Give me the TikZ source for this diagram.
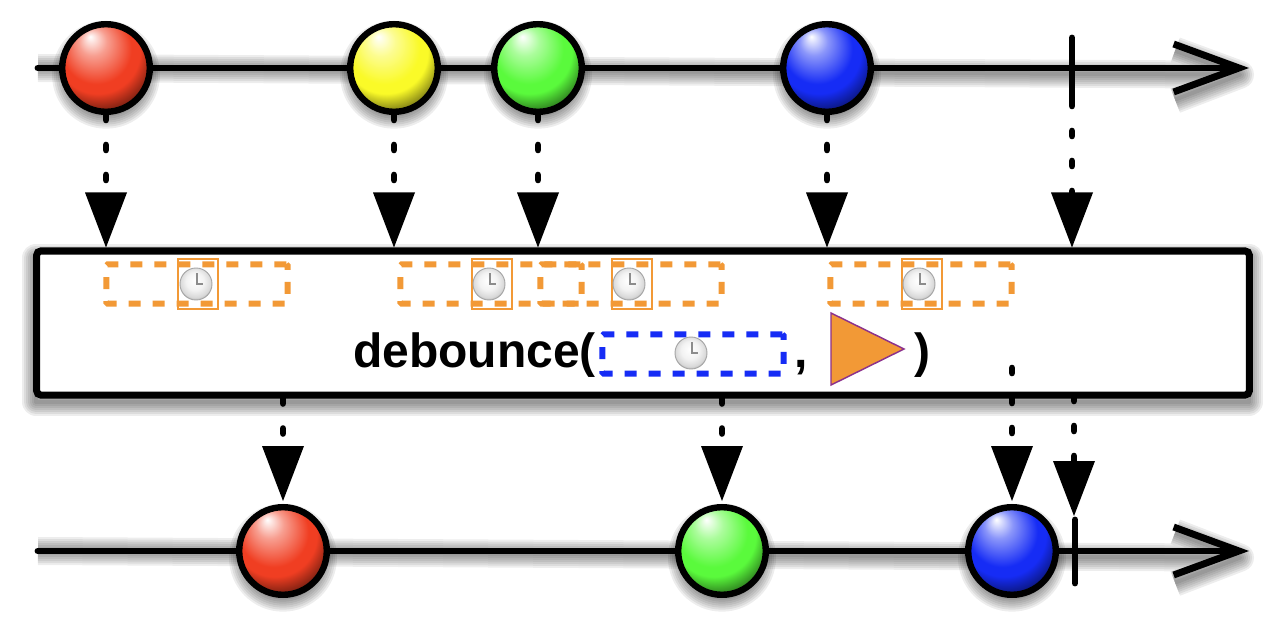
\documentclass[tikz,border=0pt]{standalone}
\usepackage{fontspec}
\setmainfont{Liberation Sans}
\usetikzlibrary{arrows.meta,shapes.geometric}
\definecolor{marblered}{RGB}{240,62,34}
\definecolor{marbleyellow}{RGB}{250,250,40}
\definecolor{marblegreen}{RGB}{90,250,60}
\definecolor{marbleblue}{RGB}{22,44,245}
\definecolor{windoworange}{RGB}{242,153,54}
\definecolor{triborder}{RGB}{140,50,140}
\newcommand{\marbleshade}[1]{
  \pgfdeclareradialshading{shade#1}{\pgfpoint{-9bp}{18bp}}{color(0bp)=(white); color(8bp)=(#1!50!white); color(20bp)=(#1); color(24bp)=(#1); color(33bp)=(#1!40!black); color(50bp)=(#1!40!black)}
}
\marbleshade{marblered}
\marbleshade{marbleyellow}
\marbleshade{marblegreen}
\marbleshade{marbleblue}
\pgfdeclareradialshading{clockface}{\pgfpoint{-2bp}{6bp}}{rgb(0bp)=(1,1,1); rgb(14bp)=(0.95,0.95,0.95); rgb(24bp)=(0.85,0.85,0.85); rgb(30bp)=(0.66,0.66,0.66); rgb(50bp)=(0.66,0.66,0.66)}
\newcommand{\clockat}[3]{
  \node[clockface] (#1) at (#2,#3) {};
  \draw[clockhand] (#1.center) ++(1,-11) -- ++(0,11) -- ++(6,0);
}
\newcommand{\softshadow}[1]{
  \foreach \w in {4,8,...,28} {
    \draw[yshift=-5pt, draw=black, opacity=.07, line width=\w*.75pt, line join=round] #1;
  }
}
\begin{document}
\begin{tikzpicture}[x=.75pt, y=-.75pt,
    timeline/.style={line width=5.2pt, line cap=round, -{Straight Barb[length=49pt,width=36pt]}},
    tickmark/.style={line width=5.2pt, line cap=round},
    marble/.style={circle, draw=black, line width=4.8pt, minimum size=65.7pt, inner sep=0pt, shading=shade#1},
    flow/.style={line width=5pt, line cap=round, dash pattern=on 3.75pt off 18.75pt,
      -{Triangle[length=41.25pt,width=31.5pt,line width=0pt]}},
    opbox/.style={draw=black, fill=white, line width=5.25pt, rounded corners=3pt, minimum width=909.4pt, minimum height=108pt, inner sep=0pt},
    window/.style={draw=windoworange, line width=4.4pt, dash pattern=on 9pt off 9pt, minimum width=136pt, minimum height=29.5pt, inner sep=0pt, rounded corners=1pt},
    timerwindow/.style={window, draw=marbleblue},
    clockframe/.style={draw=windoworange, line width=1.2pt, minimum width=30pt, minimum height=37.5pt, inner sep=0pt},
    clockface/.style={circle, draw=black!35, line width=.7pt, minimum size=24pt, inner sep=0pt, shading=clockface},
    clockhand/.style={draw=black!45, line width=1.2pt},
    optext/.style={font=\fontsize{36}{36}\bfseries\selectfont, inner sep=0pt, anchor=base west},
  ]
  \useasboundingbox (0,0) rectangle (1282,624);

  \coordinate (topstart) at (38,68);
  \coordinate (topend) at (1249,68);
  \coordinate (botstart) at (38,551);
  \coordinate (botend) at (1249,551);

  \softshadow{(topstart) -- (1240,68) (1175,44) -- (1240,68) -- (1175,93)}
  \softshadow{(botstart) -- (1240,551) (1175,526) -- (1240,551) -- (1175,576)}
  \softshadow{(36,251) rectangle (1249,395)}
  \foreach \cx/\cy in {106/68,394/68,538/68,827/68,283/551,722/551,1012/551} {
    \softshadow{(\cx,\cy) circle[radius=40]}
  }

  \draw[timeline] (topstart) -- (topend);
  \draw[timeline] (botstart) -- (botend);

  \node (opbox) [opbox] at (643,323) {};

  \node (redin) [marble=marblered] at (106,68) {};
  \node (yellowin) [marble=marbleyellow] at (394,68) {};
  \node (greenin) [marble=marblegreen] at (538,68) {};
  \node (bluein) [marble=marbleblue] at (827,68) {};
  \node (redout) [marble=marblered] at (283,551) {};
  \node (greenout) [marble=marblegreen] at (722,551) {};
  \node (blueout) [marble=marbleblue] at (1012,551) {};

  \coordinate (tickintop) at (1072,38);
  \coordinate (tickinbot) at (1072,101);
  \coordinate (tickouttop) at (1075,520);
  \coordinate (tickoutbot) at (1075,583);
  \draw[tickmark] (tickintop) -- (tickinbot);
  \draw[tickmark] (tickouttop) -- (tickoutbot);

  \draw[flow] (redin.south) -- (redin.south |- opbox.north);
  \draw[flow] (yellowin.south) -- (yellowin.south |- opbox.north);
  \draw[flow] (greenin.south) -- (greenin.south |- opbox.north);
  \draw[flow] (bluein.south) -- (bluein.south |- opbox.north);
  \draw[flow] (tickinbot) -- (tickinbot |- opbox.north);

  \coordinate (blueoutstart) at (1012,368);
  \coordinate (tickoutstart) at (1074,396);
  \coordinate (tickoutend) at (1074,516);
  \draw[flow, shorten >=2.25pt] (redout.north |- opbox.south) -- (redout.north);
  \draw[flow, shorten >=2.25pt] (greenout.north |- opbox.south) -- (greenout.north);
  \draw[flow, shorten >=2.25pt] (blueoutstart) -- (blueout.north);
  \draw[flow] (tickoutstart) -- (tickoutend);

  \node (windowa) [window] at (197,284) {};
  \node (windowb) [window] at (491,284) {};
  \node (windowc) [window] at (631,284) {};
  \node (windowd) [window] at (921,284) {};
  \node (timer) [timerwindow] at (693,354) {};

  \node (framea) [clockframe] at (198,284) {};
  \node (frameb) [clockframe] at (492,284) {};
  \node (framec) [clockframe] at (632,284) {};
  \node (framed) [clockframe] at (922,284) {};

  \clockat{clocka}{196}{284}
  \clockat{clockb}{489}{284}
  \clockat{clockc}{629}{284}
  \clockat{clockd}{919}{284}
  \clockat{clocktimer}{691}{353}

  \node (opname) [optext] at (353,367) {debounce(};
  \node (comma) [optext] at (794,367) {,};
  \node (closeparen) [optext] at (914,367) {)};

  \node (selector) [isosceles triangle, isosceles triangle stretches, draw=triborder, fill=windoworange, line width=1.1pt, minimum width=54pt, minimum height=54.75pt, inner sep=0pt, outer sep=0pt, anchor=apex] at (904,349) {};
\end{tikzpicture}
\end{document}
